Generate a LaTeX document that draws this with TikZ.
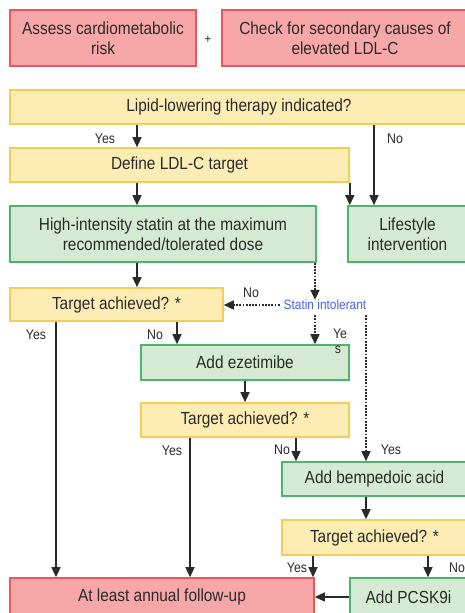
\documentclass[tikz,border=0pt]{standalone}
\usepackage{fontspec}
\setmainfont{Liberation Sans}[FakeStretch=0.88]
\usetikzlibrary{arrows.meta,calc}
\definecolor{redfill}{HTML}{F7A7A8}
\definecolor{redline}{HTML}{E45A5C}
\definecolor{yelfill}{HTML}{FDEDB5}
\definecolor{yelline}{HTML}{F2CE55}
\definecolor{grnfill}{HTML}{D5EAD3}
\definecolor{grnline}{HTML}{4FB36C}
\definecolor{txt}{HTML}{2A2A2A}
\definecolor{bluetxt}{HTML}{4A62E6}
\begin{document}
\begin{tikzpicture}[x=1pt,y=-1pt,
  box/.style={draw, line width=1.6pt, inner sep=0pt, align=center, text=txt,
    font=\fontsize{17.5}{20}\selectfont, minimum height=#1},
  redbox/.style={box=56, fill=redfill, draw=redline},
  yelbox/.style={box=34, fill=yelfill, draw=yelline},
  grnbox/.style={box=56, fill=grnfill, draw=grnline},
  lbl/.style={text=txt, font=\fontsize{14}{16}\selectfont, inner sep=0pt},
  arr/.style={line width=1.4pt, draw=txt, -{Triangle[length=10pt,width=9pt]}},
  dashdot/.style={dash pattern=on 1.8pt off 1.4pt},
  darr/.style={arr, dashdot, line width=1.6pt},
  dline/.style={line width=1.6pt, draw=txt, dashdot},
]
\useasboundingbox (0,0) rectangle (465,613);
\clip (0,0) rectangle (465,613);
\fill[white] (0,0) rectangle (465,613);

% boxes
\node[redbox, minimum width=186pt] (r1) at (103,38) {Assess cardiometabolic\\risk};
\node[redbox, minimum width=246pt] (r2) at (345,38) {Check for secondary causes of\\elevated LDL-C};
\node[lbl, font=\fontsize{13}{15}\selectfont] (plus) at (208,40) {+};
\node[yelbox, minimum width=458pt] (lipid) at (239,107) {Lipid-lowering therapy indicated?};
\node[yelbox, minimum width=339pt] (define) at (179.5,165) {Define LDL-C target};
\node[grnbox, minimum width=306pt] (high) at (163,234) {High-intensity statin at the maximum\\recommended/tolerated dose};
\node[grnbox, minimum width=119pt] (life) at (407.5,234) {Lifestyle\\intervention};
\node[yelbox, minimum width=213pt, minimum height=33pt] (ta1) at (116.5,304.5) {Target achieved? *};
\node[lbl, text=bluetxt, font=\fontsize{13.5}{16}\selectfont] (statin) at (325,305) {Statin intolerant};
\node[yelbox, minimum width=208pt, fill=grnfill, draw=grnline, minimum height=35pt] (eze) at (245,362.5) {Add ezetimibe};
\node[yelbox, minimum width=208pt] (ta2) at (245,420) {Target achieved? *};
\node[yelbox, minimum width=185pt, fill=grnfill, draw=grnline] (bemp) at (374.5,479) {Add bempedoic acid};
\node[yelbox, minimum width=185pt, minimum height=35pt] (ta3) at (374.5,537.5) {Target achieved? *};
\node[redbox, minimum width=304pt, minimum height=38pt] (fu) at (162,597) {At least annual follow-up};
\node[yelbox, minimum width=117pt, minimum height=38pt, fill=grnfill, draw=grnline] (pcsk) at (408.5,597) {Add PCSK9i};

% x positions
\coordinate (xa) at (137,0);
\coordinate (xno) at (374,0);
\coordinate (xst) at (315,0);
\coordinate (xbp) at (366,0);
\coordinate (xy1) at (56,0);
\coordinate (xn1) at (177,0);
\coordinate (xez) at (245,0);
\coordinate (xy2) at (190,0);
\coordinate (xn2) at (296,0);
\coordinate (xy3) at (313,0);
\coordinate (xn3) at (428,0);

% connectors
\draw[arr] (lipid.south -| xa) -- (define.north -| xa);
\draw[arr] (lipid.south -| xno) -- (life.north -| xno);
\draw[arr] (define.south -| xa) -- (high.north -| xa);
\draw[arr] (define.south east) -- (define.south east |- life.north);
\draw[arr] (high.south -| xa) -- (ta1.north -| xa);
\draw[darr] (high.south -| xst) -- (statin.north -| xst);
\draw[darr] (statin.west) ++(-4,0) coordinate (sw) (sw) -- (sw -| ta1.east);
\draw[darr] ($(statin.south -| xst)+(0,5)$) -- (eze.north -| xst);
\draw[dline] ($(statin.south -| xbp)+(0,5)$) -- ($(bemp.north -| xbp)+(0,-8)$);
\draw[darr] ($(bemp.north -| xbp)+(0,-9)$) -- (bemp.north -| xbp);
\draw[arr] (ta1.south -| xy1) -- (fu.north -| xy1);
\draw[arr] (ta1.south -| xn1) -- (eze.north -| xn1);
\draw[arr] (eze.south -| xez) -- (ta2.north -| xez);
\draw[arr] (ta2.south -| xy2) -- (fu.north -| xy2);
\draw[arr] (ta2.south -| xn2) -- (bemp.north -| xn2);
\draw[arr] (bemp.south -| xbp) -- (ta3.north -| xbp);
\draw[arr] (ta3.south -| xy3) -- (fu.north -| xy3);
\draw[arr] (ta3.south -| xn3) -- (pcsk.north -| xn3);
\draw[arr] (pcsk.west) -- (fu.east);

% labels
\node[lbl] (l1) at (105,139) {Yes};
\node[lbl] (l2) at (395,139) {No};
\node[lbl] (l3) at (251,293) {No};
\node[lbl] (l4) at (340,334) {Ye};
\node[lbl] (l5) at (338,350) {s};
\node[lbl] (l6) at (391,450) {Yes};
\node[lbl] (l7) at (36,335) {Yes};
\node[lbl] (l8) at (155,335) {No};
\node[lbl] (l9) at (172,451) {Yes};
\node[lbl] (l10) at (282,450) {No};
\node[lbl] (l11) at (297,568) {Yes};
\node[lbl] (l12) at (457,568) {No};
\end{tikzpicture}
\end{document}
